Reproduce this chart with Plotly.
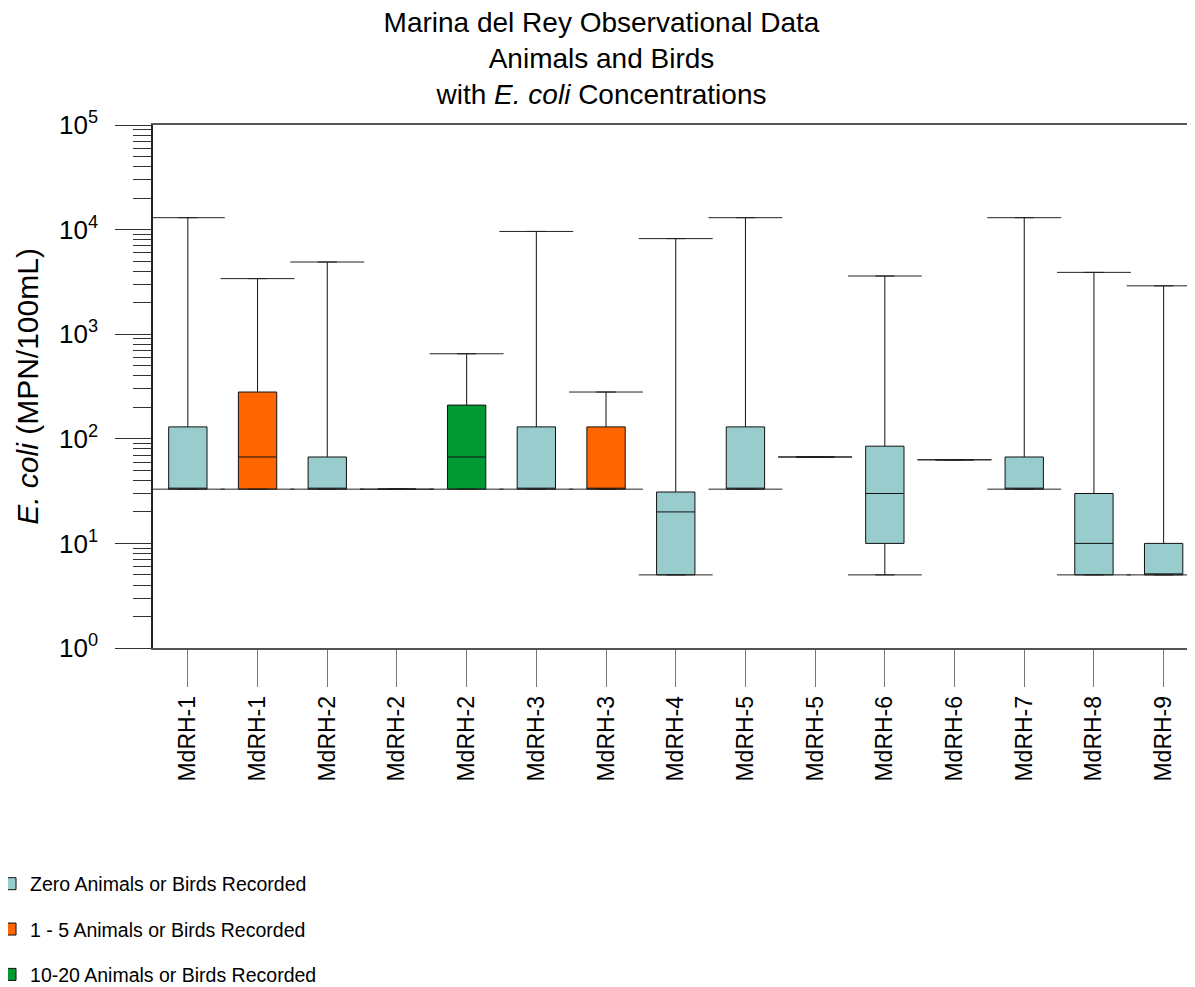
import plotly.graph_objects as go

# ---- data ----
labels = ["MdRH-1", "MdRH-1", "MdRH-2", "MdRH-2", "MdRH-2", "MdRH-3", "MdRH-3",
          "MdRH-4", "MdRH-5", "MdRH-5", "MdRH-6", "MdRH-6", "MdRH-7", "MdRH-8", "MdRH-9"]
group = ["zero", "few", "zero", "few", "many", "zero", "few",
         "zero", "zero", "few", "zero", "few", "zero", "zero", "zero"]
minimum = [33, 33, 33, 33, 33, 33, 33, 5, 33, 67, 5, 63, 33, 5, 5]
q1 = [33, 33, 33, 33, 33, 33, 33, 5, 33, 67, 10, 63, 33, 5, 5]
median = [33, 67, 33, 33, 67, 33, 33, 20, 33, 67, 30, 63, 33, 10, 5]
q3 = [130, 280, 67, 33, 210, 130, 130, 31, 130, 67, 85, 63, 67, 30, 10]
maximum = [13000, 3400, 4900, 33, 650, 9600, 280, 8200, 13000, 67, 3600, 63, 13000, 3900, 2900]

group_names = {"zero": "Zero Animals or Birds Recorded",
               "few": "1 - 5 Animals or Birds Recorded",
               "many": "10-20 Animals or Birds Recorded"}
group_colors = {"zero": "#99CCCC", "few": "#FF6600", "many": "#009933"}
group_order = ["zero", "few", "many"]

y_tickvals = [1, 10, 100, 1000, 10000, 100000]
y_ticktext = ["10<sup>0</sup>", "10<sup>1</sup>", "10<sup>2</sup>",
              "10<sup>3</sup>", "10<sup>4</sup>", "10<sup>5</sup>"]

# ---- style constants ----
FONT = "Arial, Liberation Sans, sans-serif"
BOX_W = 0.55
CAP_HALF = 0.53
FIG_W, FIG_H = 1187, 979   # page body has an 8px margin

positions = list(range(len(labels)))

fig = go.Figure()

# whisker caps
cx, cy = [], []
for p, lo, hi in zip(positions, minimum, maximum):
    cx += [p - CAP_HALF, p + CAP_HALF, None, p - CAP_HALF, p + CAP_HALF, None]
    cy += [hi, hi, None, lo, lo, None]
fig.add_trace(go.Scatter(x=cx, y=cy, mode="lines", line=dict(color="#222222", width=1),
                         showlegend=False, hoverinfo="skip"))

for g in group_order:
    idx = [i for i, gg in enumerate(group) if gg == g]
    fig.add_trace(go.Box(
        name=group_names[g],
        legendgroup=g,
        x=[positions[i] for i in idx],
        q1=[q1[i] for i in idx],
        median=[median[i] for i in idx],
        q3=[q3[i] for i in idx],
        lowerfence=[minimum[i] for i in idx],
        upperfence=[maximum[i] for i in idx],
        width=BOX_W,
        fillcolor=group_colors[g],
        line=dict(color="#111111", width=1),
        boxpoints=False,
    ))

fig.update_layout(
    width=FIG_W, height=FIG_H,
    margin=dict(l=145, r=0, t=117, b=339, autoexpand=False),
    paper_bgcolor="white", plot_bgcolor="white",
    boxmode="overlay",
    font=dict(family=FONT, color="black"),
    title=dict(text="Marina del Rey Observational Data<br>Animals and Birds<br>with <i>E. coli</i> Concentrations",
               x=0.5, xanchor="center", xref="container", y=0.976, yanchor="top",
               font=dict(size=28, family=FONT, color="black")),
    legend=dict(xref="paper", yref="paper", x=-0.1564, y=-0.414, xanchor="left", yanchor="top",
                font=dict(size=19.5, family=FONT, color="black"), traceorder="grouped",
                tracegroupgap=17, bgcolor="rgba(0,0,0,0)"),
    showlegend=True,
)

fig.update_xaxes(
    range=[-0.5, 14.45], tickmode="array", tickvals=positions, ticktext=labels,
    tickangle=-90, ticks="outside", ticklen=37, tickcolor="#777777", tickwidth=1,
    showline=True, linecolor="#555555", linewidth=1.5, mirror=True,
    showgrid=False, zeroline=False, automargin=False,
    tickfont=dict(size=23, family=FONT, color="black"),
)

minor_vals = [k * 10 ** d for d in range(0, 5) for k in range(2, 10)]
fig.update_yaxes(
    type="log", range=[0, 5], tickmode="array", tickvals=y_tickvals, ticktext=y_ticktext,
    ticks="outside", ticklen=36, tickcolor="#333333", tickwidth=1, ticklabelstandoff=12,
    minor=dict(tickmode="array", tickvals=minor_vals, ticks="outside", ticklen=18,
               tickcolor="#333333", tickwidth=1, showgrid=False),
    showline=True, linecolor="#222222", linewidth=1.5,
    showgrid=False, zeroline=False, automargin=False,
    tickfont=dict(size=26, family=FONT, color="black"),
    title=dict(text="<i>E. coli</i> (MPN/100mL)", font=dict(size=30, family=FONT, color="black"),
               standoff=12),
)

fig.write_html("out.html")
